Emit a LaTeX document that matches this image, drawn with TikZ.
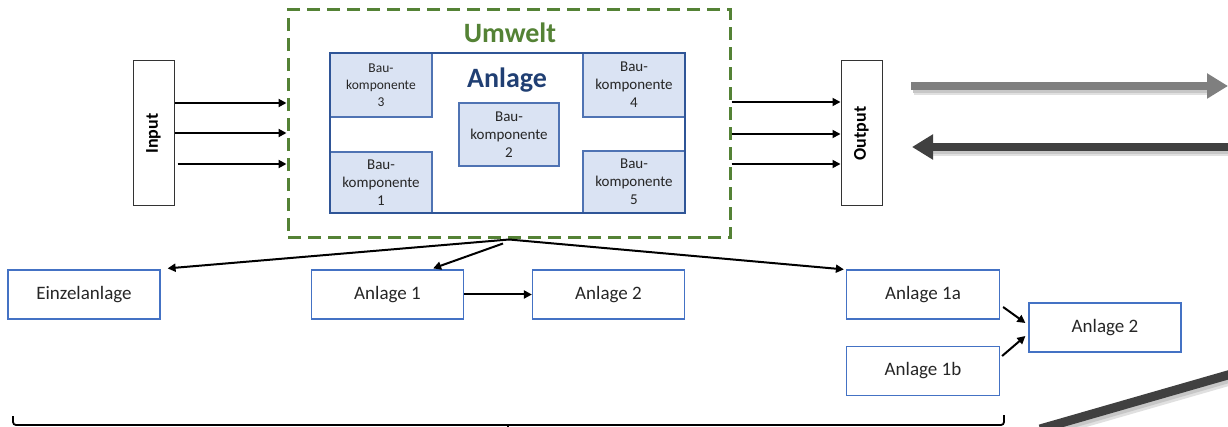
\documentclass[tikz,border=0pt]{standalone}
\usepackage{fontspec}
\setmainfont{Carlito}
\usetikzlibrary{arrows.meta,calc}
\definecolor{umweltgreen}{HTML}{548235}
\definecolor{anlageblue}{HTML}{2F5597}
\definecolor{anlagetext}{HTML}{203F73}
\definecolor{baufill}{HTML}{DAE3F3}
\definecolor{baublue}{HTML}{4F73B3}
\definecolor{boxblue}{HTML}{4472C4}
\definecolor{textgray}{HTML}{262626}
\definecolor{lightarrow}{HTML}{7F7F7F}
\definecolor{darkarrow}{HTML}{404040}
\begin{document}
\begin{tikzpicture}[x=1pt,y=-1pt,
  arr/.style={line width=2pt,-{Triangle[length=8pt,width=8pt]}},
  sysbox/.style={draw=boxblue,line width=1.2pt,fill=white,minimum width=152pt,
    minimum height=49pt,inner sep=0pt,font=\fontsize{19}{22}\selectfont,text=textgray},
  baubox/.style={draw=baublue,fill=baufill,line width=1.4pt,inner sep=0pt,align=center,
    font=\fontsize{15}{18}\selectfont,text=textgray},
  iobox/.style={draw=black!80,line width=1pt,fill=white,minimum width=41pt,
    minimum height=145pt,inner sep=0pt},
  iolabel/.style={rotate=90,font=\bfseries\fontsize{18}{20}\selectfont,text=black},
  bigarrow/.style={line width=8pt,-{Triangle[length=21pt,width=24pt]}},
  shadowA/.style={black!12,line width=11pt},
  shadowB/.style={black!22,line width=8pt},
]
\useasboundingbox (0,0) rectangle (1228,427);
\clip (0,0) rectangle (1228,427);
\fill[white] (0,0) rectangle (1228,427);

% environment frame
\node[draw=umweltgreen,line width=3pt,dash pattern=on 13pt off 7pt,
  minimum width=442pt,minimum height=228pt,inner sep=0pt] (umwelt) at (509,124) {};
\node[text=umweltgreen,font=\bfseries\fontsize{28}{30}\selectfont] (umweltlabel) at (510,33) {Umwelt};

% plant with its components
\node[fill=white,minimum width=355pt,minimum height=160pt,inner sep=0pt] (anlage) at (507.5,133) {};
\node[baubox,minimum width=102pt,minimum height=64pt,font=\fontsize{13.5}{17}\selectfont] (bau3) at (381,85) {Bau-\\komponente\\3};
\node[baubox,minimum width=102pt,minimum height=61pt] (bau1) at (381,182.5) {Bau-\\komponente\\1};
\node[baubox,minimum width=102pt,minimum height=64pt] (bau4) at (634,85) {Bau-\\komponente\\4};
\node[baubox,minimum width=102pt,minimum height=62pt] (bau5) at (634,182) {Bau-\\komponente\\5};
\node[baubox,minimum width=100pt,minimum height=63pt] (bau2) at (509,134.5) {Bau-\\komponente\\2};
\draw[anlageblue,line width=2.5pt] (anlage.north west) rectangle (anlage.south east);
\node[text=anlagetext,font=\bfseries\fontsize{28}{30}\selectfont] (anlagelabel) at (507,80) {Anlage};

% input and output
\node[iobox] (input) at (153.5,133.5) {};
\node[iolabel] (inputlabel) at (input.center) {Input};
\node[iobox] (output) at (861.5,133.5) {};
\node[iolabel] (outputlabel) at (output.center) {Output};

\draw[arr] ([yshift=30.5pt]input.east) -- ([yshift=21pt]umwelt.west);
\draw[arr] ([yshift=0.5pt]input.east) -- ([yshift=-9pt]umwelt.west);
\draw[arr] ([xshift=3pt,yshift=-30.5pt]input.east) -- ([yshift=-40pt]umwelt.west);

\draw[arr,line width=1.7pt] ([yshift=22pt]umwelt.east) -- ([yshift=31.5pt]output.west);
\draw[arr,line width=1.7pt] ([yshift=-10pt]umwelt.east) -- ([yshift=-0.5pt]output.west);
\draw[arr,line width=1.7pt] ([yshift=-40pt]umwelt.east) -- ([yshift=-30.5pt]output.west);

% exchange arrows on the right
\coordinate (sendstart) at (911,86);
\coordinate (sendend) at (1228,86);
\coordinate (recvstart) at (1232,147);
\coordinate (recvend) at (912,147);
\coordinate (lowstart) at (1040,429);
\coordinate (lowend) at (1240,371.5);

\draw[shadowA] ([shift={(3,4)}]sendstart) -- ([shift={(-18,4)}]sendend);
\draw[shadowB] ([shift={(2,3)}]sendstart) -- ([shift={(-18,3)}]sendend);
\draw[bigarrow,lightarrow] (sendstart) -- (sendend);

\draw[shadowA] ([shift={(18,4)}]recvend) -- ([shift={(3,4)}]recvstart);
\draw[shadowB] ([shift={(18,3)}]recvend) -- ([shift={(2,3)}]recvstart);
\draw[bigarrow,darkarrow] (recvstart) -- (recvend);

\draw[shadowA] ([shift={(2,5)}]lowstart) -- ([shift={(2,5)}]lowend);
\draw[shadowB] ([shift={(1,4)}]lowstart) -- ([shift={(1,4)}]lowend);
\draw[darkarrow,line width=9pt] (lowstart) -- (lowend);

% plant configurations
\node[sysbox] (einzel) at (84,294.5) {Einzelanlage};
\node[sysbox] (a1) at (387.5,294.5) {Anlage 1};
\node[sysbox] (a2) at (608.5,294.5) {Anlage 2};
\node[sysbox,minimum width=153pt] (a1a) at (923,294.5) {Anlage 1a};
\node[sysbox,minimum width=153pt] (a1b) at (923,371) {Anlage 1b};
\node[sysbox] (a2r) at (1105,327.5) {Anlage 2};

\draw[arr] (umwelt.south) -- ([shift={(7,-1)}]einzel.north east);
\draw[arr] ([shift={(-6,4)}]umwelt.south) -- ([shift={(-31,-1)}]a1.north east);
\draw[arr] (umwelt.south) -- ([shift={(-2,0)}]a1a.north west);
\draw[arr] (a1.east) -- (a2.west);
\draw[arr] ([shift={(3,12.5)}]a1a.east) -- ([shift={(-3,-4.5)}]a2r.west);
\draw[arr] ([shift={(2,-15)}]a1b.east) -- ([shift={(-3,8.5)}]a2r.west);

% brace below the configurations
\draw[line width=1.8pt,rounded corners=3pt] (13,416) -- (13,425) -- (1004,425) -- (1004,415);
\draw[line width=1.5pt] (508,424) -- (508,430);
\end{tikzpicture}
\end{document}
